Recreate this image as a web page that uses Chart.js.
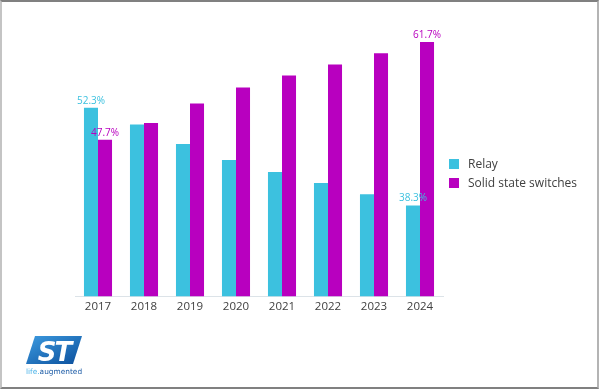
<!DOCTYPE html>
<html>
<head>
<meta charset="utf-8">
<script src="https://cdn.jsdelivr.net/npm/chart.js@4.4.0/dist/chart.umd.min.js"></script>
<style>
  html, body { margin: 0; padding: 0; background: #fff; }
  #marco {
    position: relative; width: 599px; height: 389px; box-sizing: border-box;
    border-top: 2px solid #808080; border-bottom: 2px solid #808080;
    border-left: 2px solid #c4c4c4; border-right: 2px solid #b4b4b4;
    font-family: 'Open Sans', sans-serif;
  }
  #lienzo { position: absolute; left: -2px; top: -2px; }
  #leyenda { position: absolute; left: 447px; top: 152px; font-size: 12px; color: #404040; }
  #leyenda div { height: 19px; line-height: 19px; white-space: nowrap; }
  #leyenda span { display: inline-block; width: 10px; height: 10px; margin-right: 9px; vertical-align: -1px; }
  #logo { position: absolute; left: 23px; top: 331px; }
</style>
</head>
<body>
<div id="marco">
  <canvas id="lienzo" width="599" height="389"></canvas>
  <div id="leyenda"></div>
  <svg id="logo" width="64" height="46" viewBox="0 0 64 46">
    <defs>
      <linearGradient id="azul" x1="0" y1="0" x2="1" y2="1">
        <stop offset="0" stop-color="#3d9be0"/>
        <stop offset="1" stop-color="#0b4f9c"/>
      </linearGradient>
    </defs>
    <path d="M10 3 L57 3 L48 31 L1 31 Z" fill="url(#azul)"/>
    <text x="29" y="28" text-anchor="middle" font-family="'DejaVu Sans'" font-weight="bold" font-style="italic" font-size="26" fill="#fff" letter-spacing="-2">ST</text>
    <text x="1" y="41" font-family="'DejaVu Sans'" font-size="7.4" fill="#1a5aa5"><tspan fill="#4ab3e8">life.</tspan>augmented</text>
  </svg>
</div>
<script>
// Datos (% de cuota)
const anios = ['2017', '2018', '2019', '2020', '2021', '2022', '2023', '2024'];
const rele = [52.3, 49.9, 47.1, 44.8, 43.1, 41.5, 39.9, 38.3];
const estadoSolido = [47.7, 50.1, 52.9, 55.2, 56.9, 58.5, 60.1, 61.7];
const nombres = ['Relay', 'Solid state switches'];
const colores = ['#3cc1df', '#b800bf'];

// Solo se rotulan el primer y el último año
const rotular = [0, anios.length - 1];

const etiquetas = {
    id: 'etiquetas',
    afterDatasetsDraw(chart) {
        const ctx = chart.ctx;
        ctx.save();
        ctx.font = '10px "Open Sans"';
        ctx.textAlign = 'center';
        ctx.textBaseline = 'bottom';
        chart.data.datasets.forEach((ds, i) => {
            const meta = chart.getDatasetMeta(i);
            ctx.fillStyle = ds.backgroundColor;
            rotular.forEach(j => {
                const bar = meta.data[j];
                ctx.fillText(ds.data[j].toFixed(1) + '%', bar.x, bar.y - 2);
            });
        });
        ctx.restore();
    }
};

new Chart(document.getElementById('lienzo'), {
    type: 'bar',
    data: {
        labels: anios,
        datasets: [
            { label: nombres[0], data: rele, backgroundColor: colores[0] },
            { label: nombres[1], data: estadoSolido, backgroundColor: colores[1] }
        ]
    },
    options: {
        responsive: false,
        animation: false,
        layout: { padding: { left: 75, right: 156, top: 19, bottom: 71 } },
        datasets: { bar: { categoryPercentage: 0.61, barPercentage: 1 } },
        plugins: { legend: { display: false }, tooltip: { enabled: false } },
        scales: {
            x: {
                grid: { display: false, drawTicks: false },
                border: { display: true, color: '#dce3e8', width: 1 },
                ticks: { color: '#404040', font: { family: 'Open Sans', size: 11.5 }, padding: 4 }
            },
            y: { display: false, min: 25.3, max: 65 }
        }
    },
    plugins: [etiquetas]
});

// Leyenda en HTML
document.getElementById('leyenda').innerHTML = nombres
    .map((n, i) => `<div><span style="background:${colores[i]}"></span>${n}</div>`)
    .join('');
</script>
</body>
</html>
